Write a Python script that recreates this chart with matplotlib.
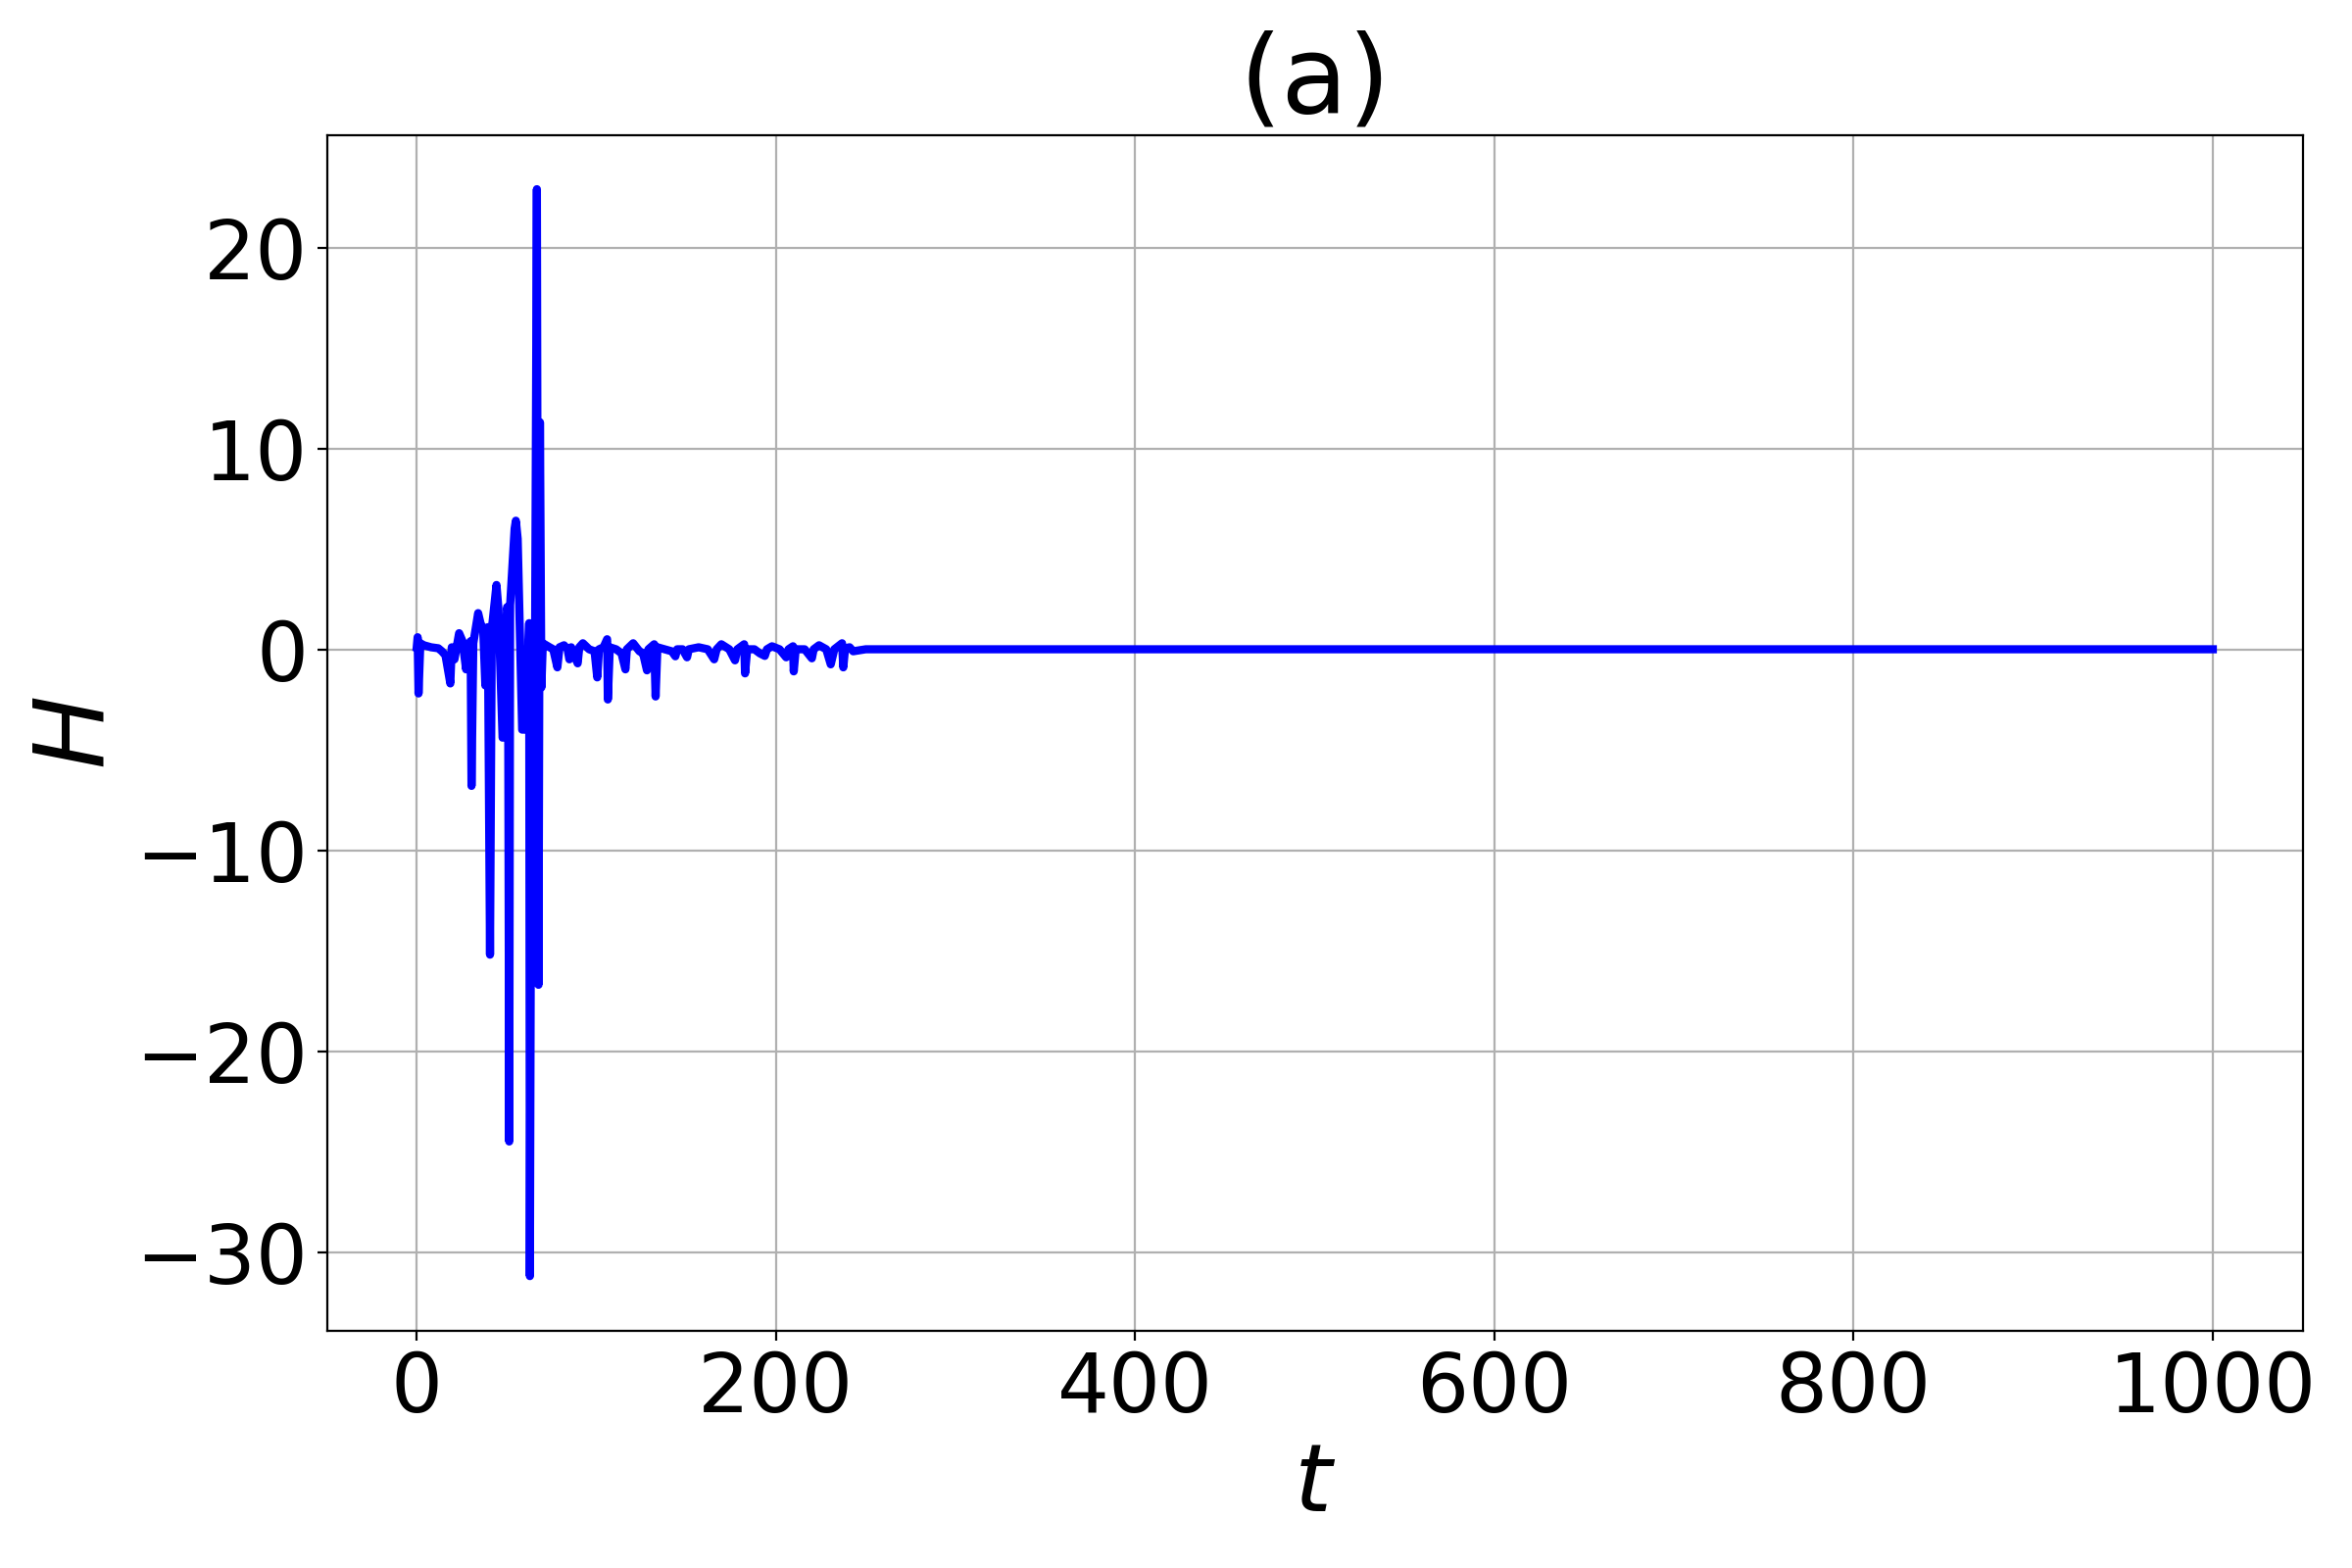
import numpy as np
import matplotlib
matplotlib.use("Agg")
import matplotlib.pyplot as plt

# time samples (t) and the H values at them
t = [0, 0.5, 1, 2, 4, 8, 12, 14, 16, 18.7, 19.5, 21, 23.6, 25.5, 27.5, 28.5,
     30.0, 30.5, 31.5, 34.2, 35.5, 37.0, 38.2, 39.6, 40.8, 41.8, 44.4, 45.5,
     47.8, 50.3, 50.8, 51.5, 52.0, 54.5, 55.2, 56.2, 58.7, 60.5, 62.6, 63.0,
     64.0, 65.5, 66.9, 67.8, 68.6, 69.4, 70.2,
     74, 76, 78.3, 79.5, 82, 84, 85, 86, 89.6, 90.5, 92.5, 96, 99, 100.5,
     101.5, 104, 106, 106.4, 107.5, 111, 114, 116.2, 117, 120.5, 124, 126,
     128.2, 129, 132.2, 133, 134, 138, 142, 144, 145, 148, 150.5, 151.5, 157,
     162, 165.6, 167, 169.6, 174, 177.2, 178.5, 182.3, 182.8, 184, 188, 191,
     193.8, 195, 197.8, 202, 205.7, 207, 209.5, 209.9, 211, 216, 220, 221,
     224, 228, 230.5, 232.5, 236.8, 237.5, 238.5, 241, 243, 250, 1000]
H = [0.1, 0.6, -2.2, 0.3, 0.2, 0.1, 0.05, -0.1, -0.3, -1.7, 0.1, -0.5, 0.8, 0.4, -1.0, 0.2,
     0.4, -6.8, 0.3, 1.8, 1.3, 1.0, -1.8, 1.1, -15.2, 1.0, 3.2, 2.0,
     -4.4, 2.1, 1.9, -24.5, 2.2, 6.0, 6.4, 5.5, -4.0, -4.0, 1.3, -31.2,
     1.2, -8.2, 22.9, -16.7, 11.3, -1.9, 0.3,
     0.1, 0.0, -0.9, 0.1, 0.2, 0.0, -0.5, 0.1, -0.7, 0.1, 0.3, 0.0, -0.1, -1.4,
     0.0, 0.1, 0.5, -2.5, 0.1, 0.0, -0.2, -1.0, 0.0, 0.3, -0.1, -0.2,
     -1.05, 0.0, 0.25, -2.35, 0.1, 0.0, -0.1, -0.35, 0.0, 0.0, -0.4, 0.0, 0.1,
     0.0, -0.5, 0.0, 0.25, 0.0, -0.55, 0.0, 0.25, -1.2, 0.0, 0.0, -0.2,
     -0.33, 0.0, 0.15, 0.0, -0.4, 0.0, 0.15, -1.1, 0.0, 0.0, -0.45, 0.0,
     0.2, 0.0, -0.75, 0.0, 0.3, -0.9, 0.05, 0.1, -0.1, 0.0, 0.0]

fig, ax = plt.subplots(figsize=(12, 8), dpi=200)
fig.subplots_adjust(left=0.139, right=0.979, bottom=0.1515, top=0.914)

ax.plot(t, H, color="blue", lw=3)
ax.grid(True)

ax.set_title("(a)", fontsize=40)
ax.set_xlabel("$t$", fontsize=35)
ax.set_ylabel("$H$", fontsize=36)
ax.tick_params(labelsize=30)

fig.savefig("out.png", dpi=200)
